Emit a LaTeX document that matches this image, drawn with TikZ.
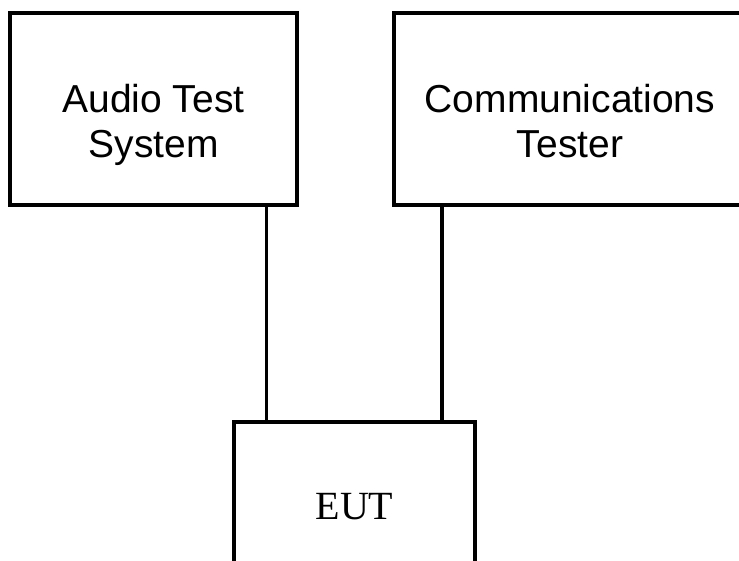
\documentclass[tikz,border=0pt]{standalone}
\usepackage{fontspec}
\newfontfamily\arialf{Liberation Sans}
\newfontfamily\timesf{Liberation Serif}
\begin{document}
\begin{tikzpicture}[x=1pt,y=-1pt,
  box/.style={draw=black, line width=3.6pt, rectangle, inner sep=0pt},
  lbl/.style={font=\arialf\fontsize{39}{45}\selectfont, align=center, inner sep=0pt},
  conn/.style={draw=black, line width=3.6pt}]
\useasboundingbox (0,0) rectangle (739,561);
\clip (0,0) rectangle (739,561);
\node[box, minimum width=287pt, minimum height=192pt,
  label={[lbl, yshift=-15.5pt]center:Audio Test\\System}] (ats) at (153.5,109) {};
\node[box, minimum width=352pt, minimum height=192pt,
  label={[lbl, yshift=-12pt]center:Communications\\Tester}] (cts) at (570,109) {};
\node[box, minimum width=241pt, minimum height=169pt,
  font=\timesf\fontsize{40}{46}\selectfont] (eut) at (354.5,506.5) {EUT};
\draw[conn] ([xshift=113pt]ats.south) -- ([xshift=113pt]ats.south |- eut.north);
\draw[conn] ([xshift=-128pt]cts.south) -- ([xshift=-128pt]cts.south |- eut.north);
\end{tikzpicture}
\end{document}
